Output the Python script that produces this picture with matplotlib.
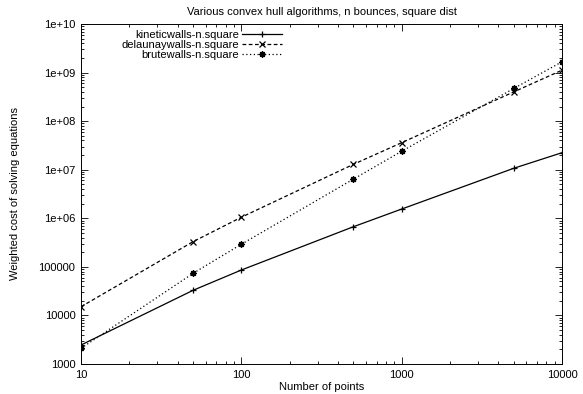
import numpy as np
import matplotlib
matplotlib.use("Agg")
import matplotlib.pyplot as plt
from matplotlib.ticker import LogLocator, FixedLocator, FixedFormatter, NullFormatter

plt.rcParams['font.family'] = ['Liberation Sans', 'DejaVu Sans']

# data
n_points = [10, 50, 100, 500, 1000, 5000, 10000]
kinetic  = [2460, 32900, 86000, 6.7e5, 1.55e6, 1.07e7, 2.24e7]
delaunay = [15100, 3.3e5, 1.05e6, 1.29e7, 3.6e7, 4.0e8, 1.12e9]
brute    = [2100, 73600, 2.92e5, 6.4e6, 2.4e7, 4.7e8, 1.67e9]

y_ticks  = [1e3, 1e4, 1e5, 1e6, 1e7, 1e8, 1e9, 1e10]
y_labels = ['1000', '10000', '100000', '1e+06', '1e+07', '1e+08', '1e+09', '1e+10']
x_ticks  = [10, 100, 1000, 10000]
x_labels = ['10', '100', '1000', '10000']

FS = 8

fig = plt.figure(figsize=(5.83, 3.94), dpi=100)
ax = fig.add_axes([81/583, 1-364/394, (562-81)/583, (364-24)/394])

ax.plot(n_points, kinetic, color='black', lw=0.9, marker='+', ms=5, mew=0.9,
        label='kineticwalls-n.square')
ax.plot(n_points, delaunay, color='black', lw=0.9, ls=(0, (3, 2)), marker='x', ms=4, mew=0.9,
        label='delaunaywalls-n.square')
ax.plot(n_points, brute, color='black', lw=0.9, ls=(0, (1, 2)), marker=(8, 2, 0), ms=4.5, mew=1.0,
        label='brutewalls-n.square')

ax.set_xscale('log'); ax.set_yscale('log')
ax.set_xlim(10, 10000); ax.set_ylim(1e3, 1e10)

ax.xaxis.set_major_locator(FixedLocator(x_ticks))
ax.xaxis.set_major_formatter(FixedFormatter(x_labels))
ax.yaxis.set_major_locator(FixedLocator(y_ticks))
ax.yaxis.set_major_formatter(FixedFormatter(y_labels))
ax.xaxis.set_minor_locator(LogLocator(base=10, subs=np.arange(2, 10)))
ax.yaxis.set_minor_locator(LogLocator(base=10, subs=np.arange(2, 10), numticks=20))
ax.xaxis.set_minor_formatter(NullFormatter())
ax.yaxis.set_minor_formatter(NullFormatter())

ax.tick_params(which='both', direction='in', top=True, right=True, labelsize=FS, width=0.6)
ax.tick_params(which='major', length=5, pad=4)
ax.tick_params(which='minor', length=2.5)
for s in ax.spines.values():
    s.set_linewidth(0.7)

fig.text((81+562)/2/583, 1-12/394, 'Various convex hull algorithms, n bounces, square dist',
         fontsize=FS, ha='center', va='center')
ax.set_xlabel('Number of points', fontsize=FS, labelpad=2)
ax.set_ylabel('Weighted cost of solving equations', fontsize=FS)
ax.yaxis.set_label_coords(-(81-20)/481, 0.5)

leg = ax.legend(loc='upper right', bbox_to_anchor=((282-81)/481, (364-30)/340),
                markerfirst=False, frameon=False, fontsize=FS,
                handlelength=3.6, handletextpad=0.3, labelspacing=0.0,
                borderpad=0, borderaxespad=0)
for t in leg.get_texts():
    t.set_ha('right')
leg._legend_box.align = 'right'

fig.savefig('out.png', dpi=100)
